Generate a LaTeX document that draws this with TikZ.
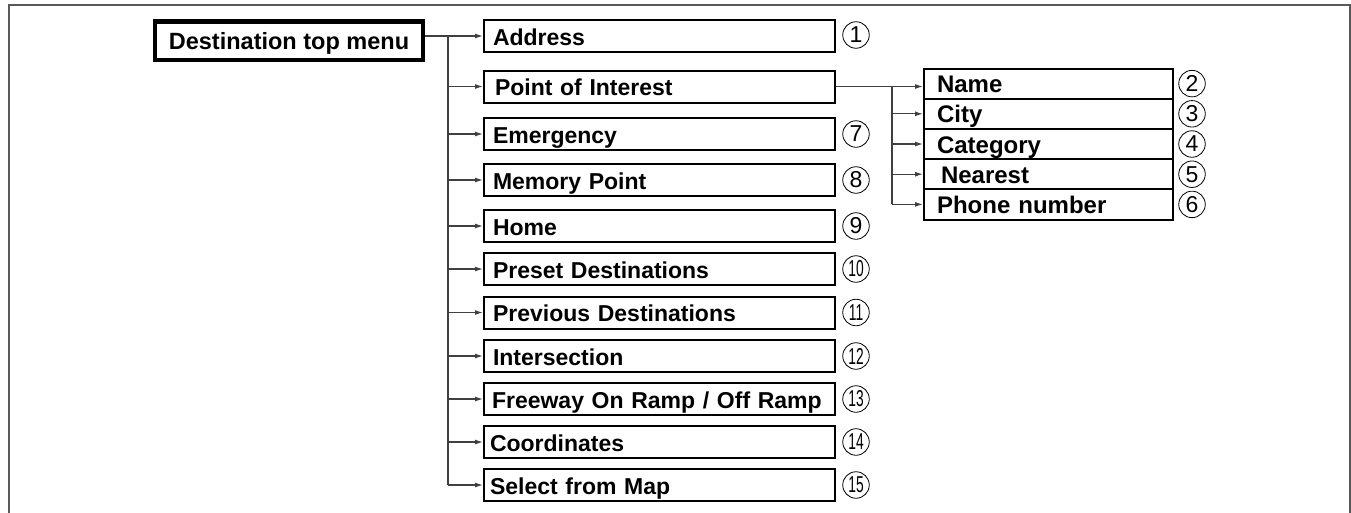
\documentclass[tikz,border=0pt]{standalone}
\usepackage{fontspec}
\setmainfont{Liberation Sans}
\usetikzlibrary{arrows.meta,positioning}

\tikzset{
  topbox/.style={rectangle, draw, line width=4.5pt, minimum width=268pt, minimum height=38.5pt, inner xsep=10pt, inner ysep=0pt, text height=20pt, text depth=2pt, font=\fontsize{23.5}{26}\selectfont\bfseries},
  menubox/.style={rectangle, draw, line width=2pt, anchor=west, text width=339pt, inner xsep=6pt, inner ysep=0pt, minimum height=32pt, text height=20pt, text depth=2pt, align=left, font=\fontsize{23}{26}\selectfont\bfseries},
  subbox/.style={menubox, text width=223pt, inner xsep=13pt, minimum height=30.2pt, font=\fontsize{24}{26}\selectfont\bfseries},
  numcircle/.style={circle, draw, line width=0.8pt, inner sep=0pt, minimum size=26.5pt, font=\fontsize{23}{23}\selectfont},
  link/.style={line width=1.2pt, draw=black!75},
  arr/.style={link, -{Latex[length=8pt,width=5pt]}}
}
\newcommand{\twodig}[1]{\scalebox{0.6}[1]{#1}}

\begin{document}
\begin{tikzpicture}[x=1pt, y=-1pt]
  \useasboundingbox (0,0) rectangle (1351,512);
  % frame
  \draw[line width=2pt, black!65] (9,525) -- (9,5) -- (1350,5) -- (1350,525);

  \node[topbox] (top) at (289,40.5) {Destination top menu};

  % main menu
  \node[menubox] (addr) at (483,36) {\hspace{3pt}Address};
  \node[menubox] (poi) at (483,86.5) {\hspace{5pt}Point of Interest};
  \node[menubox] (emerg) at (483,134) {\hspace{3pt}Emergency};
  \node[menubox] (memory) at (483,180) {\hspace{3pt}Memory Point};
  \node[menubox] (home) at (483,226) {\hspace{3pt}Home};
  \node[menubox] (preset) at (483,269) {\hspace{3pt}Preset Destinations};
  \node[menubox] (prev) at (483,312.5) {\hspace{3pt}Previous Destinations};
  \node[menubox] (inter) at (483,356) {\hspace{3pt}Intersection};
  \node[menubox] (freeway) at (483,399) {\hspace{2pt}Freeway On Ramp / Off Ramp};
  \node[menubox] (coord) at (483,442) {Coordinates};
  \node[menubox] (selmap) at (483,485) {Select from Map};

  % point of interest menu
  \node[subbox] (name) at (923,83.6) {Name};
  \node[subbox] (city) at (923,113.8) {City};
  \node[subbox] (categ) at (923,144) {Category};
  \node[subbox] (nearest) at (923,174.2) {\hspace{4pt}Nearest};
  \node[subbox] (phone) at (923,204.4) {Phone number};

  % numbers
  \node[numcircle] (c1) at (856,35) {1};
  \node[numcircle] (c7) at (856,134) {7};
  \node[numcircle] (c8) at (856,180) {8};
  \node[numcircle] (c9) at (856,226) {9};
  \node[numcircle] (c10) at (856,269) {\twodig{10}};
  \node[numcircle] (c11) at (856,312.5) {\twodig{11}};
  \node[numcircle] (c12) at (856,356) {\twodig{12}};
  \node[numcircle] (c13) at (856,399) {\twodig{13}};
  \node[numcircle] (c14) at (856,442) {\twodig{14}};
  \node[numcircle] (c15) at (856,485) {\twodig{15}};
  \node[numcircle] (c2) at (1192,83.6) {2};
  \node[numcircle] (c3) at (1192,113.8) {3};
  \node[numcircle] (c4) at (1192,144) {4};
  \node[numcircle] (c5) at (1192,174.2) {5};
  \node[numcircle] (c6) at (1192,204.4) {6};

  % Arrows
  \coordinate (trunk) at (448,36);
  \draw[arr] (top.east |- addr) -- (addr.west);
  \draw[link] (trunk) -- (trunk |- selmap);
  \foreach \n in {poi,emerg,memory,home,preset,prev,inter,freeway,coord,selmap}
    \draw[arr] (trunk |- \n) -- (\n.west);

  \coordinate (subtrunk) at (892,86.5);
  \draw[arr] (poi.east) -- (poi.east -| name.west);
  \draw[link] (subtrunk) -- (subtrunk |- phone);
  \foreach \n in {city,categ,nearest,phone}
    \draw[arr] (subtrunk |- \n) -- (\n.west);
\end{tikzpicture}
\end{document}
